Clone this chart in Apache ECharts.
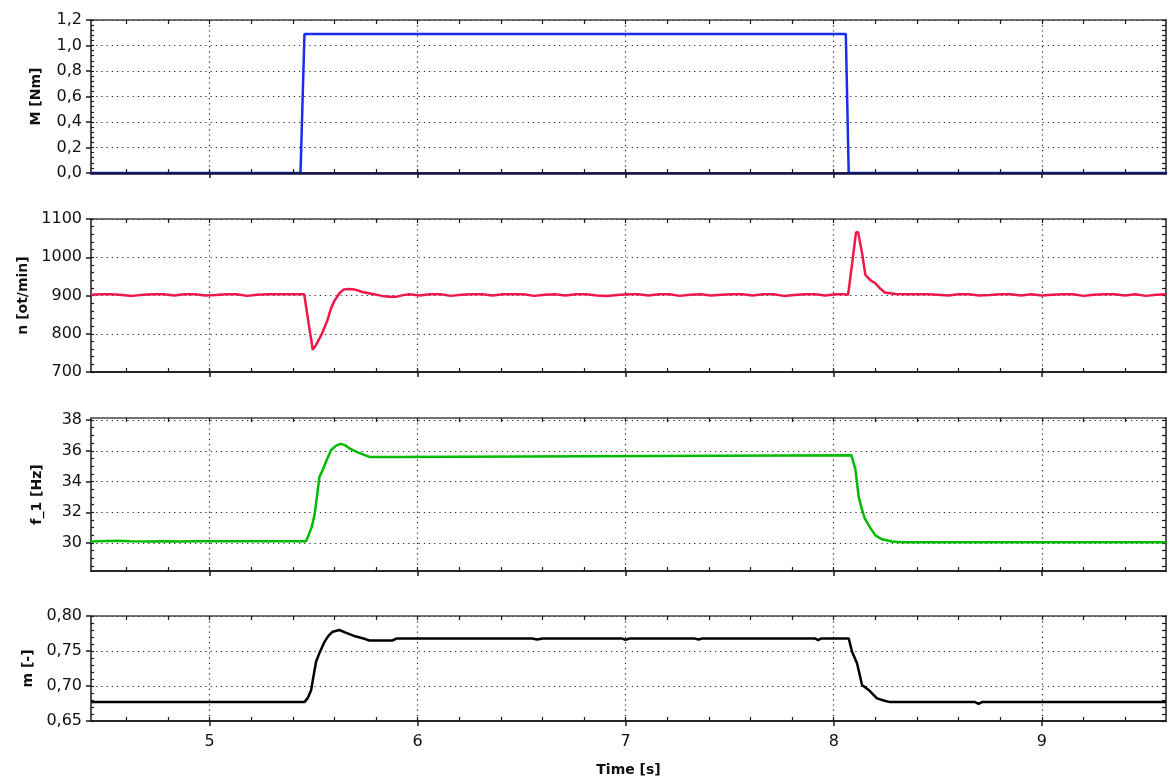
<!DOCTYPE html>
<html><head><meta charset="utf-8">
<script src="https://cdn.jsdelivr.net/npm/echarts@6/dist/echarts.min.js"></script>
<style>html,body{margin:0;padding:0;background:#fff}#c{width:1171px;height:780px}</style>
</head><body><div id="c"></div>
<script>
// ---- axis ranges & tick labels ----
const xMin = 4.43, xMax = 9.597;
const xMajor = [5, 6, 7, 8, 9];
const yNames = ['M [Nm]', 'n [ot/min]', 'f_1 [Hz]', 'm [-]'];
const yMins = [0, 700, 28.18, 0.65];
const yMaxs = [1.2, 1100, 38.13, 0.80];
const yMajor1 = [0, 0.2, 0.4, 0.6, 0.8, 1.0, 1.2];
const yMajor2 = [700, 800, 900, 1000, 1100];
const yMajor3 = [30, 32, 34, 36, 38];
const yMajor4 = [0.65, 0.70, 0.75, 0.80];
const yMinorStep = [0.04, 20, 0.5, 0.01];

// ---- series data ----
const tM = [4.43, 5.437, 5.456, 8.058, 8.072, 9.597];
const vM = [0, 0, 1.09, 1.09, 0, 0];

const tN = [4.43,4.48,4.53,4.58,4.63,4.68,4.73,4.78,4.83,4.88,4.93,4.98,5.03,5.08,5.13,5.18,5.23,5.28,5.33,5.38,5.43,5.455,
  5.475,5.496,5.505,5.512,5.54,5.567,5.584,5.60,5.624,5.645,5.67,5.696,5.735,5.783,5.83,5.864,5.90,5.93,
  5.96,6.01,6.06,6.11,6.16,6.21,6.26,6.31,6.36,6.41,6.46,6.51,6.56,6.61,6.66,6.71,6.76,6.81,6.86,6.91,6.96,7.01,7.06,7.11,7.16,7.21,7.26,7.31,7.36,7.41,7.46,7.51,7.56,7.61,7.66,7.71,7.76,7.81,7.86,7.91,7.96,8.01,8.05,
  8.069,8.09,8.107,8.117,8.136,8.152,8.176,8.20,8.22,8.245,8.297,
  8.35,8.40,8.45,8.50,8.55,8.60,8.65,8.70,8.75,8.80,8.85,8.90,8.95,9.00,9.05,9.10,9.15,9.20,9.25,9.30,9.35,9.40,9.45,9.50,9.55,9.597];
const vN = [902,903,903,901,899,902,903,903,900,903,903,900,901,903,903,899,902,903,903,903,903,903,
  830,758,760,771,800,836,867,886,906,916,917,916,909,904,899,897,897,901,
  903,900,903,903,899,902,903,903,900,903,903,903,899,902,903,900,903,903,900,899,901,903,903,900,903,903,899,902,903,900,902,903,903,900,903,903,899,901,903,903,900,903,903,
  902,990,1065,1066,1011,954,940,932,920,908,904,
  903,903,903,902,900,903,903,900,901,903,903,900,903,900,902,903,903,899,902,903,903,900,903,899,902,903];

const tF = [4.43,4.50,4.56,4.62,4.70,4.78,4.86,4.95,5.05,5.15,5.25,5.35,5.464,5.49,5.504,5.515,5.528,5.545,5.560,5.584,5.61,5.632,5.652,5.672,5.712,5.768,5.896,5.904,8.085,8.104,8.12,8.135,8.149,8.175,8.2,8.232,8.28,8.328,9.597];
const vF = [30.10,30.13,30.15,30.12,30.10,30.12,30.10,30.12,30.11,30.12,30.12,30.12,30.12,31.0,31.8,32.9,34.3,34.8,35.3,36.05,36.35,36.45,36.35,36.16,35.9,35.6,35.6,35.7,35.7,34.8,33.0,32.2,31.6,31.0,30.5,30.24,30.1,30.05,30.05];

const tm = [4.43,5.456,5.472,5.488,5.50,5.512,5.528,5.552,5.572,5.592,5.624,5.648,5.70,5.752,5.768,5.879,5.90,6.55,6.575,6.60,6.98,7.0,7.02,7.33,7.35,7.37,7.91,7.925,7.94,8.072,8.088,8.112,8.136,8.168,8.208,8.248,8.272,8.68,8.696,8.712,9.597];
const vm = [0.677,0.677,0.683,0.694,0.715,0.735,0.747,0.763,0.772,0.7776,0.780,0.777,0.771,0.7667,0.765,0.765,0.768,0.768,0.7665,0.768,0.768,0.766,0.768,0.768,0.7665,0.768,0.768,0.7655,0.768,0.768,0.749,0.7324,0.7014,0.6943,0.6824,0.6786,0.677,0.677,0.6745,0.677,0.677];

// ---- layout ----
const FONT = 'DejaVu Sans, Verdana, sans-serif';
const grids = [
  {left: 91, right: 5, top: 20, height: 153},
  {left: 91, right: 5, top: 219, height: 153},
  {left: 91, right: 5, top: 418, height: 153},
  {left: 91, right: 5, top: 616, height: 105}
];
const nameGaps = [48, 61, 47, 56];
const colors = ['#1a2cf0', '#f0174b', '#00bb00', '#000000'];
const seriesT = [tM, tN, tF, tm];
const seriesV = [vM, vN, vF, vm];
const yMajors = [yMajor1, yMajor2, yMajor3, yMajor4];
const fmts = [
  v => v.toFixed(1).replace('.', ','),
  v => String(Math.round(v)),
  v => String(Math.round(v)),
  v => v.toFixed(2).replace('.', ',')
];

function steps(a, b, s) {
  const out = [];
  const n = Math.round((b - a) / s);
  for (let i = 0; i <= n; i++) out.push(+(a + i * s).toFixed(6));
  return out;
}
function within(arr, lo, hi) { return arr.filter(v => v >= lo - 1e-9 && v <= hi + 1e-9); }

const xAll = within(steps(4.4, 9.6, 0.2), xMin, xMax);
const dotted = {show: true, lineStyle: {type: [1.2, 4], color: '#222', width: 1.2}};
const axisCol = '#1a1a1a';

const xAxes = [], yAxes = [], series = [];
for (let g = 0; g < 4; g++) {
  const last = g === 3;
  xAxes.push({
    type: 'value', gridIndex: g, min: xMin, max: xMax, position: 'bottom',
    axisLine: {show: true, onZero: false, lineStyle: {color: axisCol, width: 1.5}},
    axisTick: {show: true, customValues: xMajor, inside: false, length: 5, lineStyle: {color: axisCol, width: 1.5}},
    axisLabel: {show: last, customValues: xMajor, fontSize: 16, color: '#111', fontFamily: FONT, margin: 13},
    splitLine: dotted,
    name: last ? 'Time [s]' : '', nameLocation: 'middle', nameGap: 42,
    nameTextStyle: {fontWeight: 'bold', fontSize: 14, color: '#111', fontFamily: FONT}
  });
  xAxes.push({
    type: 'value', gridIndex: g, min: xMin, max: xMax, position: 'bottom', z: 5,
    axisLine: {show: true, onZero: false, lineStyle: {color: g === 0 ? '#141448' : axisCol, width: g === 0 ? 2.6 : 1.5}},
    axisTick: {show: true, customValues: xAll, inside: true, length: 4, lineStyle: {color: axisCol, width: 1.2}},
    axisLabel: {show: false}, splitLine: {show: false}
  });
  xAxes.push({
    type: 'value', gridIndex: g, min: xMin, max: xMax, position: 'top',
    axisLine: {show: true, onZero: false, lineStyle: {color: '#444', width: 1.5}},
    axisTick: {show: true, customValues: xAll, inside: true, length: 4, lineStyle: {color: axisCol, width: 1.2}},
    axisLabel: {show: false}, splitLine: {show: false}
  });

  const yAll = steps(Math.ceil(yMins[g] / yMinorStep[g] - 1e-9) * yMinorStep[g], yMaxs[g], yMinorStep[g]);
  const yAllF = within(yAll, yMins[g], yMaxs[g]);
  yAxes.push({
    type: 'value', gridIndex: g, min: yMins[g], max: yMaxs[g], position: 'left',
    axisLine: {show: true, onZero: false, lineStyle: {color: axisCol, width: 1.5}},
    axisTick: {show: true, customValues: yMajors[g], inside: false, length: 5, lineStyle: {color: axisCol, width: 1.5}},
    axisLabel: {customValues: yMajors[g], formatter: fmts[g], fontSize: 16, color: '#111', fontFamily: FONT, margin: 9},
    splitLine: dotted,
    name: yNames[g], nameLocation: 'middle', nameGap: nameGaps[g],
    nameTextStyle: {fontWeight: 'bold', fontSize: 14, color: '#111', fontFamily: FONT}
  });
  yAxes.push({
    type: 'value', gridIndex: g, min: yMins[g], max: yMaxs[g], position: 'left',
    axisLine: {show: false, onZero: false},
    axisTick: {show: true, customValues: yAllF, inside: true, length: 3, lineStyle: {color: axisCol, width: 1.2}},
    axisLabel: {show: false}, splitLine: {show: false}
  });
  yAxes.push({
    type: 'value', gridIndex: g, min: yMins[g], max: yMaxs[g], position: 'right',
    axisLine: {show: true, onZero: false, lineStyle: {color: '#555', width: 2}},
    axisTick: {show: true, customValues: yAllF, inside: true, length: 4, lineStyle: {color: axisCol, width: 1.2}},
    axisLabel: {show: false}, splitLine: {show: false}
  });

  series.push({
    type: 'line', xAxisIndex: g * 3, yAxisIndex: g * 3,
    data: seriesT[g].map((t, i) => [t, seriesV[g][i]]),
    showSymbol: false, symbol: 'none', clip: true,
    lineStyle: {color: colors[g], width: 2.5}, z: 3
  });
}

const chart = echarts.init(document.getElementById('c'), null, {renderer: 'canvas'});
chart.setOption({
  backgroundColor: '#fff',
  animation: false,
  grid: grids,
  xAxis: xAxes,
  yAxis: yAxes,
  series: series
});
</script>
</body></html>
